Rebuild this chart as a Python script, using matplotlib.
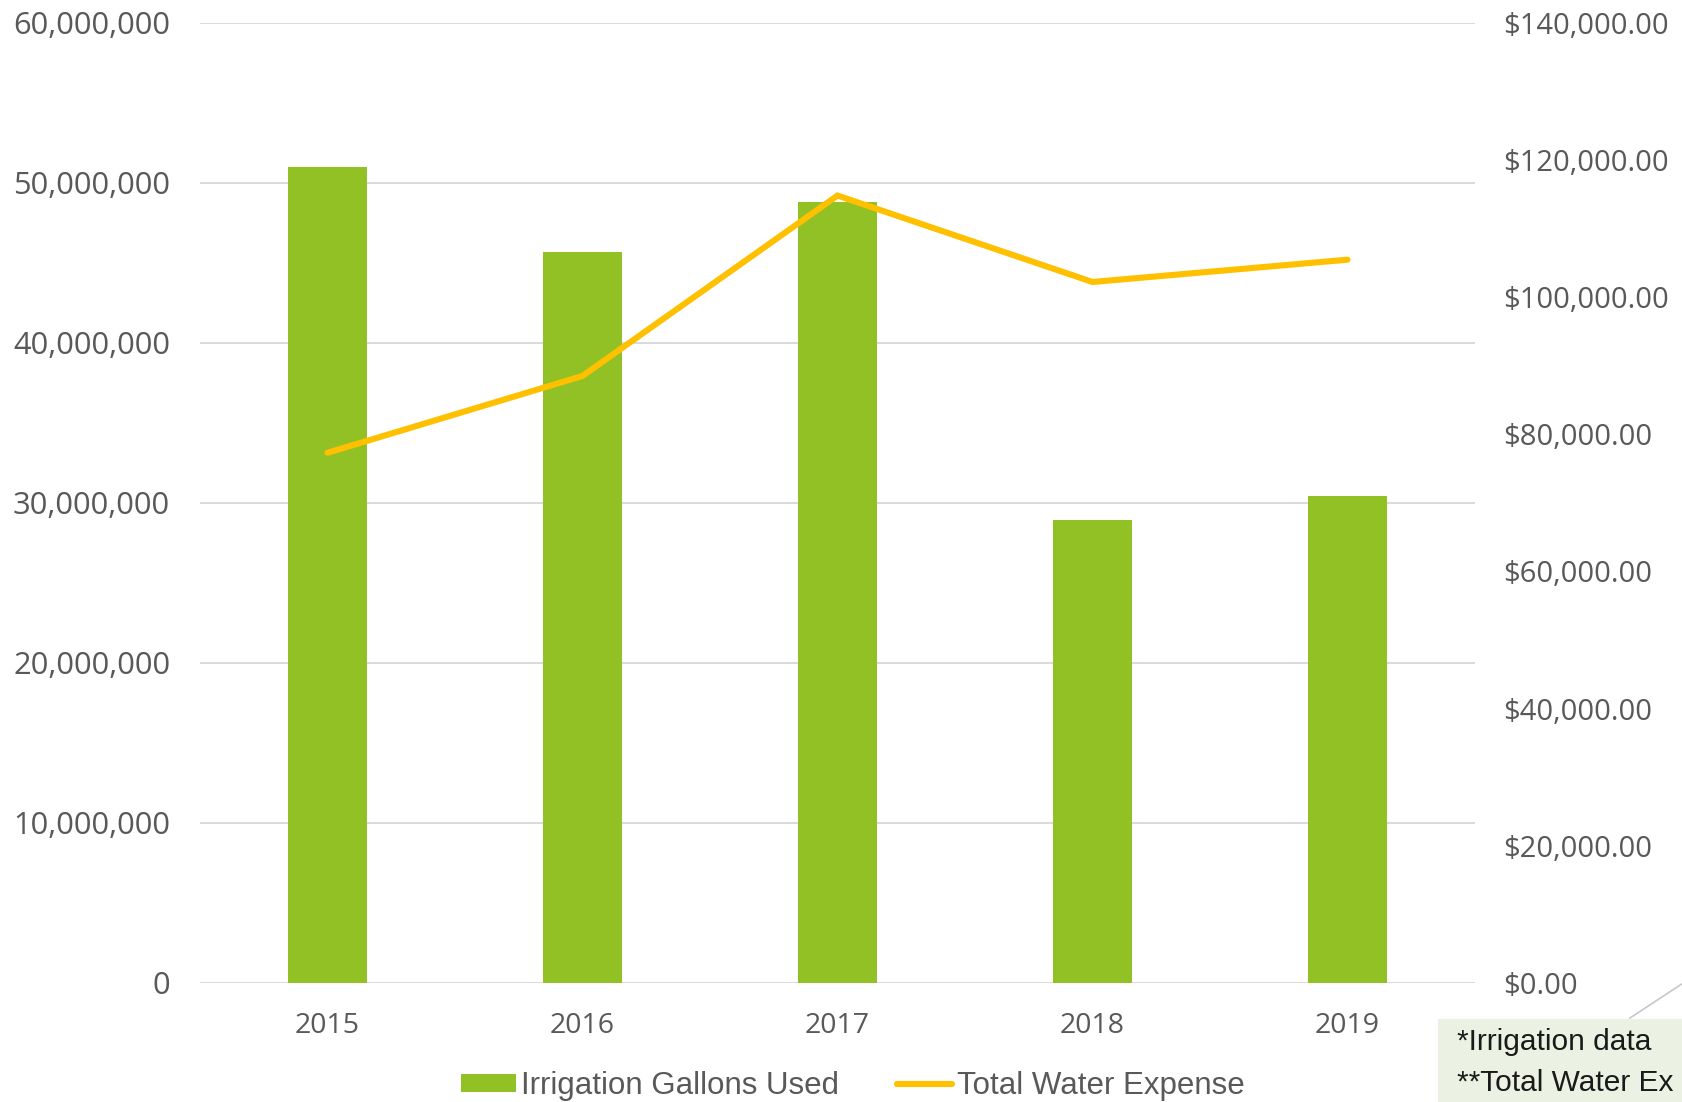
import matplotlib
matplotlib.use("Agg")
import matplotlib.pyplot as plt
from matplotlib.patches import Rectangle
from matplotlib.lines import Line2D
from matplotlib.ticker import FuncFormatter, MultipleLocator

# data
jahre = ["2015", "2016", "2017", "2018", "2019"]
gallonen = [51_000_000, 45_700_000, 48_800_000, 28_900_000, 30_400_000]
kosten = [77_300, 88_500, 114_800, 102_200, 105_450]
fussnoten = ["*Irrigation data", "**Total Water Ex"]

GRUEN = "#92C125"
GELB = "#FFC000"
GRAU_TEXT = "#595959"
GRAU_GITTER = "#D9D9D9"

fig = plt.figure(figsize=(16.83, 11.02), dpi=100)
ax = fig.add_axes([200 / 1683, 1 - 983 / 1102, 1275 / 1683, 960.3 / 1102])
ax2 = ax.twinx()

x = range(len(jahre))
ax.bar(x, gallonen, width=0.31, color=GRUEN, zorder=2)
ax2.plot(x, kosten, color=GELB, linewidth=4.4, solid_capstyle="round",
         solid_joinstyle="miter", zorder=3)

ax.set_xlim(-0.5, len(jahre) - 0.5)
ax.set_ylim(0, 60_000_000)
ax2.set_ylim(0, 140_000)

ax.yaxis.set_major_locator(MultipleLocator(10_000_000))
ax.yaxis.set_major_formatter(FuncFormatter(lambda v, _: f"{int(v):,}"))
ax2.yaxis.set_major_locator(MultipleLocator(20_000))
ax2.yaxis.set_major_formatter(FuncFormatter(lambda v, _: f"${v:,.2f}"))
ax.set_xticks(list(x))
ax.set_xticklabels(jahre)

ax.grid(axis="y", color=GRAU_GITTER, linewidth=1.4, zorder=0)
ax.set_axisbelow(True)
for a in (ax, ax2):
    for s in a.spines.values():
        s.set_visible(False)

ax.tick_params(axis="y", length=0, pad=21.5, labelsize=22.2,
               labelcolor=GRAU_TEXT)
ax.tick_params(axis="x", length=0, pad=21, labelsize=20.5,
               labelcolor=GRAU_TEXT)
ax2.tick_params(axis="y", length=0, pad=20, labelsize=21,
                labelcolor=GRAU_TEXT)
for lbl in ax.get_xticklabels() + ax.get_yticklabels() + ax2.get_yticklabels():
    lbl.set_fontfamily("Open Sans")

# legend
handles = [
    Rectangle((0, 0), 1, 1, facecolor=GRUEN, edgecolor="none"),
    Line2D([0], [0], color=GELB, linewidth=4.4, solid_capstyle="round"),
]
fig.legend(handles, ["Irrigation Gallons Used", "Total Water Expense"],
           loc="center", bbox_to_anchor=(853 / 1683, 1 - 1086 / 1102),
           ncol=2, frameon=False, borderpad=0, handlelength=1.75,
           handleheight=0.55, handletextpad=0.18, columnspacing=1.85,
           prop={"family": "Liberation Sans", "size": 22.5},
           labelcolor=GRAU_TEXT)

# Fussnoten-Kasten, am rechten Rand angeschnitten wie im Original
fig.add_artist(Line2D([1630 / 1683, 1700 / 1683],
                      [1 - 1018 / 1102, 1 - 972 / 1102],
                      color="#C8C8C8", linewidth=1.2,
                      transform=fig.transFigure))
fig.patches.append(Rectangle((1438 / 1683, 0), 300 / 1683, 83 / 1102,
                             facecolor="#EBF1E3", edgecolor="none",
                             transform=fig.transFigure, zorder=3))
for text, y_px in zip(fussnoten, [1042, 1083]):
    fig.text(1457 / 1683, 1 - y_px / 1102, text,
             family="Liberation Sans", size=21.5, color="#1A1A1A",
             va="center", zorder=4)

fig.savefig("out.png", dpi=100)
